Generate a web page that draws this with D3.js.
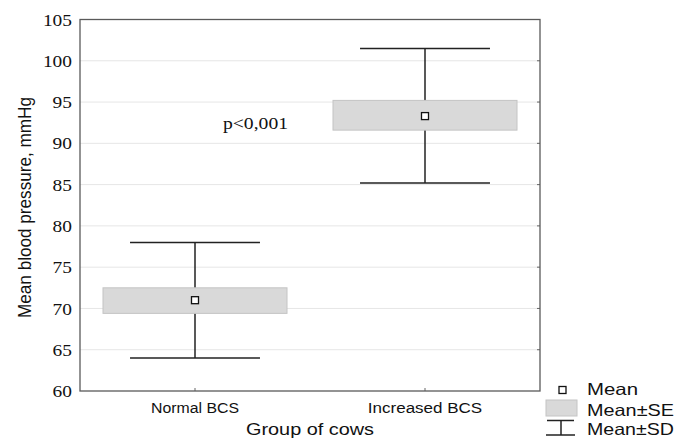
<!DOCTYPE html>
<html><head><meta charset="utf-8">
<script src="https://cdn.jsdelivr.net/npm/d3@7/dist/d3.min.js"></script>
<style>body{margin:0;background:#fff}svg{display:block}</style>
</head><body><svg id="c" width="689" height="439"></svg>
<script>
const categories = ["Normal BCS", "Increased BCS"];
const means = [71.0, 93.3];
const seLow = [69.4, 91.6];
const seHigh = [72.5, 95.2];
const sdLow = [64.0, 85.2];
const sdHigh = [78.0, 101.5];
const yTicks = [60, 65, 70, 75, 80, 85, 90, 95, 100, 105];
const legendLabels = ["Mean", "Mean±SE", "Mean±SD"];
const annotation = "p<0,001";

const svg = d3.select("#c");
const m = {left: 80, right: 540, top: 19.5, bottom: 391};
const x = d3.scaleBand().domain(categories).range([m.left, m.right]).padding(0);
const y = d3.scaleLinear().domain([60, 105]).range([m.bottom, m.top]);
const serif = "'Liberation Serif', 'Times New Roman', serif";
const sans = "'Liberation Sans', Arial, sans-serif";

// gridlines
svg.append("g").selectAll("line").data(yTicks.slice(1, -1)).join("line")
  .attr("x1", m.left).attr("x2", m.right)
  .attr("y1", d => y(d)).attr("y2", d => y(d))
  .attr("stroke", "#e6e6e6").attr("stroke-width", 1);

// right axis inner ticks
svg.append("g").selectAll("line").data(yTicks.slice(1, -1)).join("line")
  .attr("x1", m.right - 3).attr("x2", m.right)
  .attr("y1", d => y(d)).attr("y2", d => y(d))
  .attr("stroke", "#666").attr("stroke-width", 1);

// left axis
const yAxis = d3.axisLeft(y).tickValues(yTicks).tickSize(0).tickPadding(8);
const ga = svg.append("g").attr("transform", `translate(${m.left},0)`).call(yAxis);
ga.attr("font-family", null).attr("font-size", null);
ga.select(".domain").remove();
ga.selectAll("text").style("font-family", serif).style("font-size", "17.5px").attr("fill", "#111")
  .attr("textLength", d => String(d).length * 9.7).attr("lengthAdjust", "spacingAndGlyphs");

// bottom axis
const xAxis = d3.axisBottom(x).tickSize(0).tickPadding(11);
const gx = svg.append("g").attr("transform", `translate(0,${m.bottom})`).call(xAxis);
gx.attr("font-family", null).attr("font-size", null);
gx.select(".domain").remove();
gx.selectAll("text").style("font-family", sans).style("font-size", "15.5px").attr("fill", "#111")
  .attr("textLength", d => d.length * 8.8).attr("lengthAdjust", "spacingAndGlyphs");
svg.append("g").selectAll("line").data(categories).join("line")
  .attr("x1", d => x(d) + x.bandwidth() / 2).attr("x2", d => x(d) + x.bandwidth() / 2)
  .attr("y1", m.bottom - 3).attr("y2", m.bottom)
  .attr("stroke", "#666");

// frame
svg.append("rect").attr("x", m.left).attr("y", m.top)
  .attr("width", m.right - m.left).attr("height", m.bottom - m.top)
  .attr("fill", "none").attr("stroke", "#5a5a5a").attr("stroke-width", 1.3);

// SE boxes and SD whiskers
const bw = x.bandwidth() * 0.8, cw = x.bandwidth() * 0.565;
const cx = i => x(categories[i]) + x.bandwidth() / 2;
const g = svg.append("g");
const idx = categories.map((_, i) => i);
g.selectAll(".wl").data(idx).join("line")
  .attr("x1", cx).attr("x2", cx)
  .attr("y1", i => y(sdHigh[i])).attr("y2", i => y(sdLow[i]))
  .attr("stroke", "#222").attr("stroke-width", 1.5);
g.selectAll(".cap1").data(idx).join("line")
  .attr("x1", i => cx(i) - cw / 2).attr("x2", i => cx(i) + cw / 2)
  .attr("y1", i => y(sdHigh[i])).attr("y2", i => y(sdHigh[i]))
  .attr("stroke", "#222").attr("stroke-width", 1.5);
g.selectAll(".cap2").data(idx).join("line")
  .attr("x1", i => cx(i) - cw / 2).attr("x2", i => cx(i) + cw / 2)
  .attr("y1", i => y(sdLow[i])).attr("y2", i => y(sdLow[i]))
  .attr("stroke", "#222").attr("stroke-width", 1.5);
g.selectAll("rect").data(idx).join("rect")
  .attr("x", i => cx(i) - bw / 2).attr("width", bw)
  .attr("y", i => y(seHigh[i])).attr("height", i => y(seLow[i]) - y(seHigh[i]))
  .attr("fill", "#d9d9d9").attr("stroke", "#c4c4c4").attr("stroke-width", 1);
g.selectAll(".mk").data(idx).join("rect")
  .attr("x", i => cx(i) - 3.5).attr("y", i => y(means[i]) - 3.5)
  .attr("width", 7).attr("height", 7)
  .attr("fill", "#fff").attr("stroke", "#111").attr("stroke-width", 1.3);

// annotation
svg.append("text").attr("x", 223).attr("y", 129)
  .style("font-family", serif).style("font-size", "17px").attr("fill", "#111")
  .attr("textLength", 65).attr("lengthAdjust", "spacingAndGlyphs")
  .text(annotation);

// axis titles
svg.append("text").attr("transform", `translate(31,${207.5}) rotate(-90)`)
  .attr("text-anchor", "middle").style("font-family", sans).style("font-size", "17.5px").attr("fill", "#111")
  .attr("textLength", 221).attr("lengthAdjust", "spacingAndGlyphs")
  .text("Mean blood pressure, mmHg");
svg.append("text").attr("x", (m.left + m.right) / 2).attr("y", 434.5)
  .attr("text-anchor", "middle").style("font-family", sans).style("font-size", "16.5px").attr("fill", "#111")
  .attr("textLength", 128).attr("lengthAdjust", "spacingAndGlyphs")
  .text("Group of cows");

// legend
const lg = svg.append("g");
lg.append("rect").attr("x", 559).attr("y", 386.5).attr("width", 7).attr("height", 7)
  .attr("fill", "#fff").attr("stroke", "#111").attr("stroke-width", 1.3);
lg.append("rect").attr("x", 546).attr("y", 400).attr("width", 31).attr("height", 16)
  .attr("fill", "#d9d9d9").attr("stroke", "#c4c4c4");
lg.append("line").attr("x1", 547).attr("x2", 574).attr("y1", 420.5).attr("y2", 420.5).attr("stroke", "#222").attr("stroke-width", 1.5);
lg.append("line").attr("x1", 561).attr("x2", 561).attr("y1", 420.5).attr("y2", 435).attr("stroke", "#222").attr("stroke-width", 1.5);
lg.append("line").attr("x1", 546).attr("x2", 575).attr("y1", 435).attr("y2", 435).attr("stroke", "#222").attr("stroke-width", 1.5);
lg.selectAll("text").data(legendLabels).join("text")
  .attr("x", 587).attr("y", (d, i) => [394.5, 415.5, 434.5][i])
  .style("font-family", sans).style("font-size", "16.5px").attr("fill", "#111")
  .attr("textLength", (d, i) => [51, 87, 87][i]).attr("lengthAdjust", "spacingAndGlyphs")
  .text(d => d);
</script></body></html>
